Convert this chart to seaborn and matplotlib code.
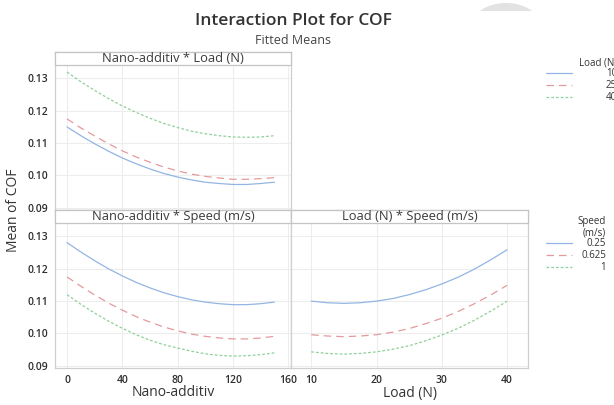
import numpy as np
import pandas as pd
import matplotlib
matplotlib.use("Agg")
import matplotlib.pyplot as plt
import seaborn as sns
from matplotlib.lines import Line2D
from matplotlib.patches import Rectangle, Ellipse
from matplotlib.ticker import FixedLocator, FormatStrFormatter

# ---------------- data ----------------
nano_x = [0, 10, 20, 30, 40, 50, 60, 70, 80, 90, 100, 110, 120, 130, 140, 150]
nl_load10 = [0.1150, 0.1123, 0.1098, 0.1075, 0.1054, 0.1036, 0.1020, 0.1006,
             0.0995, 0.0986, 0.0979, 0.0975, 0.0972, 0.0972, 0.0975, 0.0979]
nl_load25 = [0.1175, 0.1147, 0.1122, 0.1098, 0.1076, 0.1057, 0.1041, 0.1026,
             0.1014, 0.1004, 0.0997, 0.0992, 0.0988, 0.0988, 0.0990, 0.0993]
nl_load40 = [0.1320, 0.1290, 0.1263, 0.1238, 0.1215, 0.1195, 0.1177, 0.1161,
             0.1148, 0.1137, 0.1129, 0.1123, 0.1119, 0.1118, 0.1119, 0.1123]

ns_sp025 = [0.1281, 0.1252, 0.1225, 0.1200, 0.1178, 0.1158, 0.1141, 0.1126,
            0.1114, 0.1104, 0.1097, 0.1092, 0.1089, 0.1089, 0.1092, 0.1097]
ns_sp0625 = [0.1175, 0.1146, 0.1119, 0.1094, 0.1072, 0.1052, 0.1035, 0.1020,
             0.1008, 0.0998, 0.0991, 0.0986, 0.0983, 0.0983, 0.0986, 0.0991]
ns_sp1 = [0.1120, 0.1090, 0.1063, 0.1038, 0.1016, 0.0996, 0.0979, 0.0965,
          0.0955, 0.0945, 0.0937, 0.0932, 0.0930, 0.0931, 0.0934, 0.0940]

load_x = [10, 12.5, 15, 17.5, 20, 22.5, 25, 27.5, 30, 32.5, 35, 37.5, 40]
ls_sp025 = [0.1100, 0.1095, 0.1093, 0.1095, 0.1100, 0.1108, 0.1120, 0.1135,
            0.1153, 0.1174, 0.1199, 0.1228, 0.1259]
ls_sp0625 = [0.0996, 0.0992, 0.0990, 0.0992, 0.0996, 0.1004, 0.1015, 0.1030,
             0.1047, 0.1068, 0.1092, 0.1119, 0.1149]
ls_sp1 = [0.0943, 0.0938, 0.0936, 0.0938, 0.0943, 0.0951, 0.0962, 0.0977,
          0.0995, 0.1016, 0.1041, 0.1069, 0.1100]

load_levels = ["10", "25", "40"]
speed_levels = ["0.25", "0.625", "1"]
y_ticks = [0.09, 0.10, 0.11, 0.12, 0.13]
nano_ticks = [0, 40, 80, 120, 160]
load_ticks = [10, 20, 30, 40]


def long_df(x, series, levels):
    rows = []
    for lev, ys in zip(levels, series):
        for xv, yv in zip(x, ys):
            rows.append({"x": xv, "y": yv, "grp": lev})
    return pd.DataFrame(rows)


df_nl = long_df(nano_x, [nl_load10, nl_load25, nl_load40], load_levels)
df_ns = long_df(nano_x, [ns_sp025, ns_sp0625, ns_sp1], speed_levels)
df_ls = long_df(load_x, [ls_sp025, ls_sp0625, ls_sp1], speed_levels)

# ---------------- style ----------------
sns.set_theme(style="white")
plt.rcParams["font.family"] = ["Open Sans", "DejaVu Sans"]

c_blue = "#93b5e3"
c_red = "#e49a9c"
c_green = "#8fd09b"
colors = [c_blue, c_red, c_green]
dash_list = ["", (6, 4), (2.2, 1.6)]
LW = 0.9

W, H = 614, 405
fig = plt.figure(figsize=(W / 100, H / 100), dpi=100)


def px_axes(x0, y0, x1, y1):
    return fig.add_axes([x0 / W, 1 - y1 / H, (x1 - x0) / W, (y1 - y0) / H])


ax_tl = px_axes(55, 52, 291, 210)
ax_bl = px_axes(55, 210, 291, 368)
ax_br = px_axes(291, 210, 528, 368)

YLIM = (0.0893, 0.1382)

panels = [
    (ax_tl, df_nl, load_levels, (-8.7, 162), nano_ticks, "Nano-additiv * Load (N)"),
    (ax_bl, df_ns, speed_levels, (-8.7, 162), nano_ticks, "Nano-additiv * Speed (m/s)"),
    (ax_br, df_ls, speed_levels, (6.9, 43.2), load_ticks, "Load (N) * Speed (m/s)"),
]

for ax, df, levels, xlim, xt, title in panels:
    pal = dict(zip(levels, colors))
    dsh = dict(zip(levels, dash_list))
    sns.lineplot(data=df, x="x", y="y", hue="grp", style="grp", palette=pal,
                 dashes=dsh, hue_order=levels, style_order=levels,
                 linewidth=LW, legend=False, ax=ax, zorder=3)
    ax.set_xlim(*xlim)
    ax.set_ylim(*YLIM)
    ax.xaxis.set_major_locator(FixedLocator(xt))
    ax.yaxis.set_major_locator(FixedLocator(y_ticks))
    ax.yaxis.set_major_formatter(FormatStrFormatter("%.2f"))
    ax.grid(True, color="#ededed", linewidth=0.8, zorder=0)
    ax.set_axisbelow(True)
    ax.set_xlabel("")
    ax.set_ylabel("")
    for s in ax.spines.values():
        s.set_color("#cfcfcf")
        s.set_linewidth(0.9)
    ax.tick_params(axis="both", which="major", labelsize=7.5, colors="#bdbdbd",
                   labelcolor="#2e2e2e", length=3, width=0.8, direction="out",
                   pad=2)
    for lab in ax.get_xticklabels() + ax.get_yticklabels():
        lab.set_fontweight("semibold")
    # header strip
    hdr_h = 12.5 / 158
    ax.add_patch(Rectangle((0, 1 - hdr_h), 1, hdr_h, transform=ax.transAxes,
                           facecolor="white", edgecolor="#c4c4c4", linewidth=0.9,
                           zorder=5, clip_on=False))
    ax.text(0.5, 1 - hdr_h / 2, title, transform=ax.transAxes, ha="center",
            va="center", fontsize=9.3, color="#3a3a3a", zorder=6)

ax_tl.tick_params(axis="x", labelbottom=False, bottom=False)
ax_br.tick_params(axis="y", labelleft=False, left=False)

# axis labels
fig.text(173 / W, 1 - 393 / H, "Nano-additiv", ha="center", va="center",
         fontsize=10, color="#333333")
fig.text(410 / W, 1 - 393 / H, "Load (N)", ha="center", va="center",
         fontsize=10, color="#333333")
fig.text(14 / W, 1 - 210 / H, "Mean of COF", ha="center", va="center",
         rotation=90, fontsize=10, color="#333333")

# titles
fig.text(293 / W, 1 - 21 / H, "Interaction Plot for COF", ha="center",
         va="center", fontsize=12.5, fontweight="semibold", color="#333333")
fig.text(293 / W, 1 - 40 / H, "Fitted Means", ha="center", va="center",
         fontsize=9, color="#444444")


# legends (drawn manually to match the right-aligned layout)
def legend(title_lines, title_ys, labels, ys, right_x):
    for t, ty in zip(title_lines, title_ys):
        fig.text(right_x / W, 1 - ty / H, t, ha="right", va="center",
                 fontsize=7, color="#333333")
    for lab, yy, col, d in zip(labels, ys, colors, dash_list):
        ln = Line2D([546 / W, 572 / W], [1 - yy / H, 1 - yy / H],
                    transform=fig.transFigure, color=col, linewidth=LW)
        if d:
            ln.set_dashes(d)
        fig.add_artist(ln)
        fig.text(right_x / W, 1 - yy / H, lab, ha="right", va="center",
                 fontsize=7, color="#333333")


legend(["Load (N)"], [63], load_levels, [73, 85, 97], 617)
legend(["Speed", "(m/s)"], [221, 233], speed_levels, [243, 255, 267], 606)

# faint grey shape at top right
ell = Ellipse((506 / W, 1 - 24 / H), width=66 / W, height=42 / H,
              transform=fig.transFigure, facecolor="#e2e2e2", edgecolor="none")
fig.add_artist(ell)
clip = Rectangle((0, 1 - 11 / H), 1, 11 / H, transform=fig.transFigure)
ell.set_clip_path(clip)

fig.savefig("out.png", dpi=100)
